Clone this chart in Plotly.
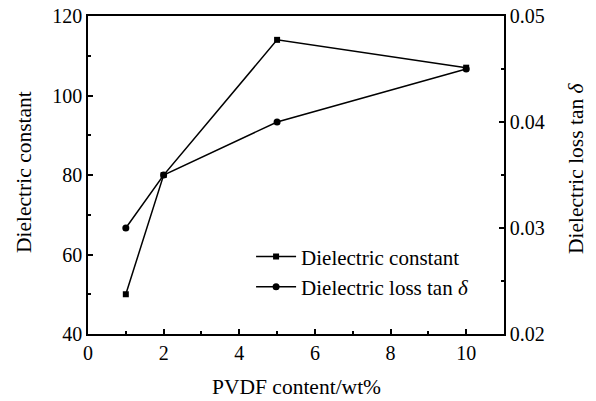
import plotly.graph_objects as go

pvdf = [1, 2, 5, 10]
dielectric_constant = [50, 80, 114, 107]
dielectric_loss = [0.030, 0.035, 0.040, 0.045]

FONT = "Liberation Serif"
TITLE_SIZE = 21.5

fig = go.Figure()
fig.add_trace(go.Scatter(
    x=pvdf, y=dielectric_constant, mode="lines+markers",
    name="Dielectric constant",
    line=dict(color="black", width=1.5),
    marker=dict(symbol="square", size=6, color="black"),
))
fig.add_trace(go.Scatter(
    x=pvdf, y=dielectric_loss, mode="lines+markers",
    name="Dielectric loss tan <i>δ</i>",
    yaxis="y2",
    line=dict(color="black", width=1.5),
    marker=dict(symbol="circle", size=7, color="black"),
))

axis_common = dict(
    showgrid=False, zeroline=False, showline=True, linecolor="black", linewidth=1.5,
    ticks="inside", ticklen=5, tickwidth=1.5, tickcolor="black",
    tickfont=dict(family=FONT, size=20, color="black"),
    automargin=False,
)

L, R, T, B = 88, 92, 16, 67
W, H = 596, 401
pw, ph = W - L - R, H - T - B

fig.update_layout(
    width=W, height=H,
    margin=dict(l=L, r=R, t=T, b=B),
    paper_bgcolor="white", plot_bgcolor="white",
    font=dict(family=FONT, size=20, color="black"),
    showlegend=True,
    legend=dict(x=0.392, y=0.307, xanchor="left", yanchor="top",
                bgcolor="rgba(0,0,0,0)", font=dict(family=FONT, size=21),
                tracegroupgap=0, itemwidth=40),
    xaxis=dict(range=[0, 11], dtick=2, tick0=0, mirror=True,
               minor=dict(dtick=1, ticks="inside", ticklen=3, tickwidth=1.5, tickcolor="black"),
               **axis_common),
    yaxis=dict(range=[40, 120], dtick=20,
               minor=dict(dtick=10, ticks="inside", ticklen=3, tickwidth=1.5, tickcolor="black"),
               **axis_common),
    yaxis2=dict(range=[0.02, 0.05], dtick=0.01, overlaying="y", side="right",
                tickformat=".2f",
                minor=dict(dtick=0.005, ticks="inside", ticklen=3, tickwidth=1.5, tickcolor="black"),
                **axis_common),
    annotations=[
        dict(text="PVDF content/wt%", xref="paper", yref="paper",
             x=(296 - L) / pw, y=(H - B - 387) / ph, showarrow=False,
             xanchor="center", yanchor="middle",
             font=dict(family=FONT, size=TITLE_SIZE)),
        dict(text="Dielectric constant", xref="paper", yref="paper",
             x=(24 - L) / pw, y=(H - B - 172) / ph, showarrow=False, textangle=-90,
             xanchor="center", yanchor="middle",
             font=dict(family=FONT, size=TITLE_SIZE)),
        dict(text="Dielectric loss tan <i>δ</i>", xref="paper", yref="paper",
             x=(576 - L) / pw, y=(H - B - 168) / ph, showarrow=False, textangle=-90,
             xanchor="center", yanchor="middle",
             font=dict(family=FONT, size=TITLE_SIZE)),
    ],
)

fig.write_html("out.html")
